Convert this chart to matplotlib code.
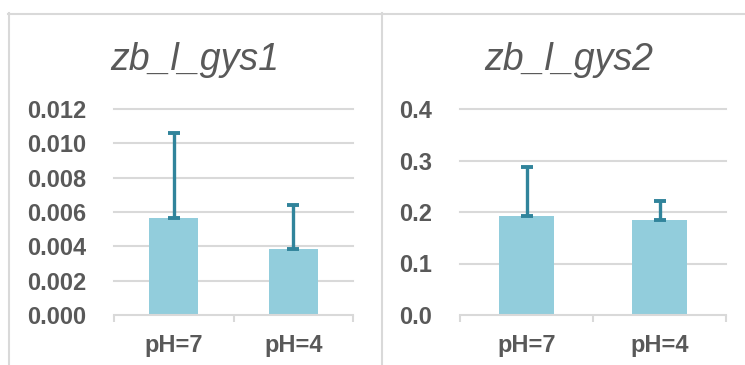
import matplotlib.pyplot as plt
from matplotlib.lines import Line2D

categories = ['pH=7', 'pH=4']
titles = ['zb_l_gys1', 'zb_l_gys2']
gys1_values = [0.00565, 0.00384]
gys1_errors = [0.00497, 0.00259]
gys2_values = [0.192, 0.184]
gys2_errors = [0.096, 0.037]
gys1_ticks = [0.000, 0.002, 0.004, 0.006, 0.008, 0.010, 0.012]
gys2_ticks = [0.0, 0.1, 0.2, 0.3, 0.4]

bar_color = '#92CDDC'
err_color = '#31849B'
text_color = '#595959'
grid_color = '#D9D9D9'

plt.rcParams['font.family'] = ['Liberation Sans', 'DejaVu Sans']

fig = plt.figure(figsize=(7.45, 3.65), dpi=100)
W, H = 745, 365

def px_axes(x0, x1, y_top, y_bot):
    return fig.add_axes([x0 / W, 1 - y_bot / H, (x1 - x0) / W, (y_bot - y_top) / H])

panels = [
    (px_axes(114, 353, 109, 315), gys1_values, gys1_errors, gys1_ticks, '{:.3f}', 195),
    (px_axes(460, 726, 109, 315), gys2_values, gys2_errors, gys2_ticks, '{:.1f}', 569),
]

for (ax, vals, errs, ticks, fmt, title_x), title in zip(panels, titles):
    x = list(range(len(categories)))
    ax.bar(x, vals, width=0.41, color=bar_color, zorder=2)
    ax.errorbar(x, vals, yerr=[[0] * len(errs), errs], fmt='none', ecolor=err_color,
                elinewidth=2.4, capsize=4.5, capthick=2.8, zorder=3)
    ax.set_xlim(-0.5, len(categories) - 0.5)
    ax.set_ylim(ticks[0], ticks[-1])
    ax.set_yticks(ticks)
    ax.set_yticklabels([fmt.format(t) for t in ticks])
    ax.set_xticks(x)
    ax.set_xticklabels(categories)
    ax.set_xticks([-0.5, 0.5, 1.5], minor=True)
    for t in ticks[1:]:
        ax.axhline(t, color=grid_color, lw=1.5, zorder=1, clip_on=False)
    for s in ['top', 'right', 'left']:
        ax.spines[s].set_visible(False)
    ax.spines['bottom'].set_color(grid_color)
    ax.spines['bottom'].set_linewidth(1.5)
    ax.spines['bottom'].set_zorder(4)
    ax.tick_params(axis='y', length=0, pad=20, labelsize=17, labelcolor=text_color)
    ax.tick_params(axis='x', which='major', length=0, pad=14, labelsize=17, labelcolor=text_color)
    ax.tick_params(axis='x', which='minor', length=5, width=1.5, color=grid_color)
    for lab in ax.get_xticklabels() + ax.get_yticklabels():
        lab.set_fontweight('bold')
    ax.patch.set_alpha(0)
    fig.text(title_x / W, 1 - 60 / H, title, ha='center', va='center', fontsize=27,
             style='italic', color=text_color)

# chart area borders
border = dict(color=grid_color, lw=1.5, transform=fig.transFigure)
fig.add_artist(Line2D([8.5 / W, 8.5 / W], [0, 1 - 13 / H], **border))
fig.add_artist(Line2D([8 / W, 1], [1 - 13.5 / H, 1 - 13.5 / H], **border))
fig.add_artist(Line2D([381.5 / W, 381.5 / W], [0, 1 - 13 / H], **border))

fig.savefig('out.png', dpi=100)
